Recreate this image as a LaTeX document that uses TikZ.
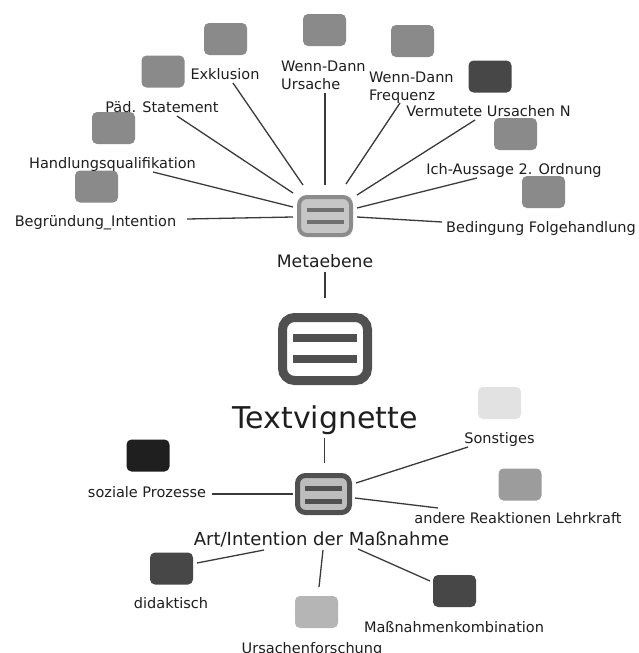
\documentclass[tikz,border=0pt]{standalone}
\usepackage{fontspec}
\setmainfont{DejaVu Sans}
\usetikzlibrary{calc}
\definecolor{txt}{HTML}{1E1E1E}
\definecolor{lin}{HTML}{3A3A3A}
\definecolor{gmid}{HTML}{8A8A8A}
\definecolor{gdark}{HTML}{474747}
\definecolor{gblack}{HTML}{1F1F1F}
\definecolor{glight}{HTML}{B5B5B5}
\definecolor{gpale}{HTML}{E2E2E2}
\definecolor{gsoft}{HTML}{9C9C9C}
\definecolor{hubrim}{HTML}{8C8C8C}
\definecolor{hubfill}{HTML}{C6C6C6}
\definecolor{hubbar}{HTML}{707070}
\definecolor{dk}{HTML}{505050}
\definecolor{bhfill}{HTML}{BDBDBD}
\begin{document}
\begin{tikzpicture}[x=1pt,y=-1pt,
  sq/.style={rounded corners=5pt, minimum width=43pt, minimum height=32pt, inner sep=0pt, draw=none},
  lbl/.style={font=\fontsize{14.5}{17.5}\selectfont, text=txt, inner sep=0pt, anchor=base},
  conn/.style={draw=lin, line width=1.3pt}]
\useasboundingbox (0,0) rectangle (639,653);
\fill[white] (0,0) rectangle (639,653);

% ---------- top hub ----------
\node[draw=hubrim, line width=4pt, fill=hubfill, rounded corners=8pt, minimum width=52pt, minimum height=38pt, inner sep=0pt] (tophub) at (325,216) {};
\fill[hubbar] ($(tophub.center)+(-18.5,-8)$) rectangle ++(37,4);
\fill[hubbar] ($(tophub.center)+(-18.5,4)$) rectangle ++(37,4);
\node[font=\fontsize{17.2}{20}\selectfont, text=txt, inner sep=0pt, anchor=base] (lmeta) at (325,267) {Metaebene};

% ---------- central icon ----------
\node[draw=dk, line width=9pt, fill=white, rounded corners=12pt, minimum width=85pt, minimum height=63pt, inner sep=0pt] (vig) at (325,349) {};
\fill[dk] ($(vig.center)+(-32,-15)$) rectangle ++(64,8);
\fill[dk] ($(vig.center)+(-32,6)$) rectangle ++(64,8);
\node[font=\fontsize{30}{34}\selectfont, text=txt, inner sep=0pt, anchor=base] (lvig) at (325,428) {Textvignette};

% ---------- bottom hub ----------
\node[draw=dk, line width=5pt, fill=bhfill, rounded corners=8pt, minimum width=52pt, minimum height=37pt, inner sep=0pt] (bothub) at (323.5,494) {};
\fill[dk] ($(bothub.center)+(-18.5,-8.5)$) rectangle ++(37,5);
\fill[dk] ($(bothub.center)+(-18.5,4.5)$) rectangle ++(37,5);
\node[font=\fontsize{18}{21}\selectfont, text=txt, inner sep=0pt, anchor=base] (lart) at (321.5,545) {Art/Intention der Maßnahme};

% ---------- top squares ----------
\node[sq, fill=gmid] (sexk) at (225.5,39) {};
\node[sq, fill=gmid] (swdu) at (324.5,30) {};
\node[sq, fill=gmid] (spaed) at (163,71.5) {};
\node[sq, fill=gmid] (shand) at (113.5,128) {};
\node[sq, fill=gmid] (sbeg) at (96.5,186.5) {};
\node[sq, fill=gmid] (swdf) at (412.5,41) {};
\node[sq, fill=gdark] (sverm) at (490,76.5) {};
\node[sq, fill=gmid] (sich) at (515.5,134) {};
\node[sq, fill=gmid] (sbed) at (543.5,192) {};

% ---------- top labels ----------
\node[lbl] (lexk) at (225,79.5) {Exklusion};
\node[lbl, anchor=north west, align=left] (lwdu) at (281,61) {Wenn-Dann\\Ursache};
\node[lbl] (lpaed) at (162,112.5) {Päd. Statement};
\node[lbl] (lhand) at (112.5,168.5) {Handlungsqualifikation};
\node[lbl] (lbeg) at (95.5,226.5) {Begründung\_Intention};
\node[lbl, anchor=north west, align=left] (lwdf) at (369,72) {Wenn-Dann\\Frequenz};
\node[lbl] (lverm) at (488.5,116.5) {Vermutete Ursachen N};
\node[lbl] (lich) at (514,174.5) {Ich-Aussage 2. Ordnung};
\node[lbl] (lbed) at (541,232.5) {Bedingung Folgehandlung};

% ---------- bottom squares ----------
\node[sq, fill=gblack] (ssoz) at (148,455.5) {};
\node[sq, fill=gpale] (ssons) at (499.5,403) {};
\node[sq, fill=gsoft] (sand) at (520,484.5) {};
\node[sq, fill=gdark] (sdid) at (171.5,568.5) {};
\node[sq, fill=glight] (surs) at (316.5,612) {};
\node[sq, fill=gdark] (smass) at (454.5,591) {};

% ---------- bottom labels ----------
\node[lbl] (lsoz) at (147,497.5) {soziale Prozesse};
\node[lbl] (lsons) at (499.5,443.5) {Sonstiges};
\node[lbl] (land) at (518,523.5) {andere Reaktionen Lehrkraft};
\node[lbl] (ldid) at (171,608.5) {didaktisch};
\node[lbl] (lurs) at (312,653) {Ursachenforschung};
\node[lbl] (lmass) at (454,632.5) {Maßnahmenkombination};

% ---------- connector end points ----------
\coordinate (a1) at (187,219);  \coordinate (b1) at (293,217);
\coordinate (a2) at (153,172);  \coordinate (b2) at (293,207);
\coordinate (a3) at (177,116);  \coordinate (b3) at (293,193);
\coordinate (a4) at (233,83);   \coordinate (b4) at (303,185);
\coordinate (a5) at (325,93);   \coordinate (b5) at (325,185);
\coordinate (a6) at (400,103);  \coordinate (b6) at (346,184);
\coordinate (a7) at (475,120);  \coordinate (b7) at (357,195);
\coordinate (a8) at (477,178);  \coordinate (b8) at (357,208);
\coordinate (a9) at (442,222);  \coordinate (b9) at (357,217);
\coordinate (m1) at (325,272);  \coordinate (m2) at (325,298);
\coordinate (m3) at (324.5,438);\coordinate (m4) at (324.5,463);
\coordinate (c1) at (212,494);  \coordinate (d1) at (293,494);
\coordinate (c2) at (468,447);  \coordinate (d2) at (356,483);
\coordinate (c3) at (438,508);  \coordinate (d3) at (355,498);
\coordinate (c4) at (197,563);  \coordinate (d4) at (264,550);
\coordinate (c5) at (319,587);  \coordinate (d5) at (323,550);
\coordinate (c6) at (430,581);  \coordinate (d6) at (358,549);

% ---------- connectors ----------
\foreach \s/\t in {a1/b1,a2/b2,a3/b3,a4/b4,a5/b5,a6/b6,a7/b7,a8/b8,a9/b9,m1/m2,m3/m4,c1/d1,c2/d2,c3/d3,c4/d4,c5/d5,c6/d6}
  \draw[conn] (\s) -- (\t);
\end{tikzpicture}
\end{document}
